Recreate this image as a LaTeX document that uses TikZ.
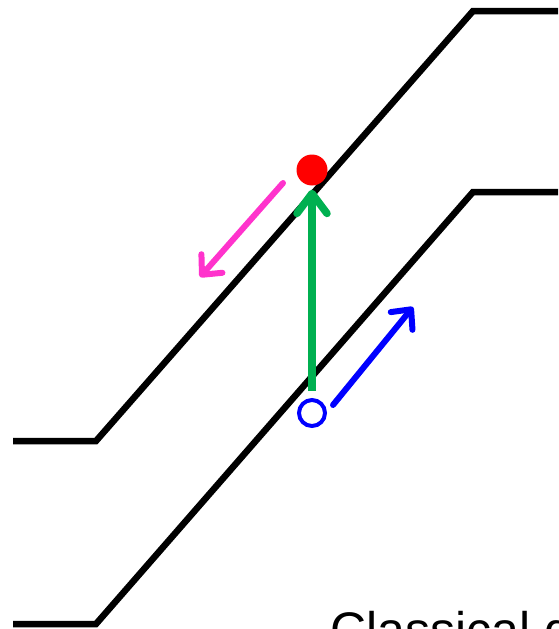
\documentclass[tikz,border=0pt]{standalone}
\usepackage{fontspec}
\setmainfont{Liberation Sans}
\usetikzlibrary{arrows.meta}
\definecolor{officegreen}{HTML}{00B050}
\definecolor{hotpink}{HTML}{FF33CC}

\begin{document}
\begin{tikzpicture}[x=1pt, y=-1pt,
  track/.style={line width=6.5pt, line join=miter},
  arr/.style={line width=6pt, line cap=round, -{Straight Barb[round, length=15pt, width=28pt]}}]
\useasboundingbox (0,0) rectangle (558,629);
% the two staircase lines
\draw[track] (13,441) -- (96,441) -- (473,11) -- (558,11);
\draw[track] (13,624) -- (96,624) -- (473,192) -- (558,192);
% particle and hole
\node[circle, fill=red, inner sep=0pt, minimum size=31pt] (particle) at (312,170) {};
\node[circle, draw=blue, line width=4pt, fill=white, inner sep=0pt, minimum size=26pt] (hole) at (312,413) {};
\coordinate (bluetip) at (413,307);
\coordinate (pinkstart) at (283,183);
\coordinate (pinktip) at (200,277);
\draw[arr, officegreen, line width=7.5pt, line cap=butt, -{Straight Barb[round, length=20pt, width=30pt]}]
  ([yshift=7pt]hole.north) -- ([yshift=-4pt]particle.south);
\draw[arr, blue] ([shift={(21pt,8pt)}]hole.center) -- (bluetip);
\draw[arr, hotpink] (pinkstart) -- (pinktip);
% caption, cut off by the page edge
\node[anchor=base west, inner sep=0pt, font=\fontsize{50}{60}\selectfont] (caption) at (330,647) {Classical d};
\end{tikzpicture}
\end{document}
